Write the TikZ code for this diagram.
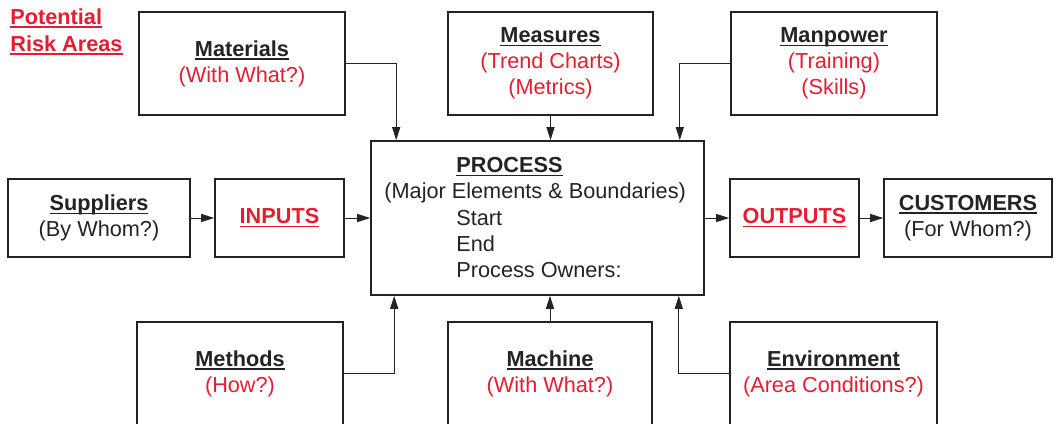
\documentclass[tikz,border=0pt]{standalone}
\usepackage{fontspec}
\setmainfont{Liberation Sans}
\usetikzlibrary{positioning,calc,arrows.meta}
\definecolor{riskred}{RGB}{228,30,50}
\definecolor{inkgray}{RGB}{35,35,35}
\newcommand{\undr}[1]{\setbox0\hbox{#1}\leavevmode\rlap{\rule[-1.7pt]{\wd0}{0.7pt}}\box0}
\newcommand{\boxt}[1]{\undr{\textbf{#1}}}
\newcommand{\riskt}[1]{\textcolor{riskred}{#1}}

\begin{document}
\begin{tikzpicture}
    [
    x=0.5pt, y=-0.5pt,
    every node/.style={
      font=\fontsize{10.85pt}{13pt}\selectfont,
      text=inkgray},
    box/.style={
      draw=inkgray, line width=0.8pt,
      align=center, inner sep=0pt,
      minimum height=51.5pt},
    link/.style={
      draw=inkgray, line width=0.5pt,
      -{Triangle[length=6.5pt, width=4pt]}},
    procline/.style={anchor=base west, inner sep=0pt}
    ]
    \useasboundingbox (0,0) rectangle (1059,423);
    \clip (0,0) rectangle (1059,423);

    % Title in the corner
    \node[anchor=west, align=left, inner sep=0pt, text=riskred,
          font=\bfseries\fontsize{10.85pt}{13.5pt}\selectfont]
          (risk) at (10,31.5) {\undr{Potential}\\\undr{Risk Areas}};

    % Top row of the 6M boxes
    \node[box, minimum width=103pt] (materials) at (242,63.5)
          {\boxt{Materials}\\\riskt{(With What?)}};
    \node[box, minimum width=102.5pt] (measures) at (550.5,63.5)
          {\boxt{Measures}\\\riskt{(Trend Charts)}\\\riskt{(Metrics)}};
    \node[box, minimum width=103pt] (manpower) at (834,63.5)
          {\boxt{Manpower}\\\riskt{(Training)}\\\riskt{(Skills)}};

    % Middle row: the flow
    \node[box, minimum width=91pt, minimum height=39pt] (suppliers) at (99,218)
          {\boxt{Suppliers}\\(By Whom?)};
    \node[box, minimum width=64.5pt, minimum height=39pt] (inputs) at (279.5,218)
          {\riskt{\boxt{INPUTS}}};
    \node[box, minimum width=166.5pt, minimum height=77pt] (process) at (537.5,218) {};
    \node[box, minimum width=64.5pt, minimum height=39pt] (outputs) at (794.5,218)
          {\riskt{\boxt{OUTPUTS}}};
    \node[box, minimum width=84pt, minimum height=39pt] (customers) at (968,218)
          {\boxt{CUSTOMERS}\\(For Whom?)};

    % Text inside the process box
    \node[procline] (proctitle) at (456,172.75) {\boxt{PROCESS}};
    \node[procline] (procsub)   at (384,198.75) {(Major Elements \& Boundaries)};
    \node[procline] (procstart) at (456,225.75) {Start};
    \node[procline] (procend)   at (456,251.75) {End};
    \node[procline] (procowner) at (456,277.75) {Process Owners:};

    % Bottom row of the 6M boxes
    \node[box, minimum width=103pt] (methods) at (240,373.5)
          {\boxt{Methods}\\\riskt{(How?)}};
    \node[box, minimum width=102pt] (machine) at (550,373.5)
          {\boxt{Machine}\\\riskt{(With What?)}};
    \node[box, minimum width=103.5pt] (environment) at (833.5,373.5)
          {\boxt{Environment}\\\riskt{(Area Conditions?)}};

    % Draw the connectors
    \draw[link] (materials.east) -| ([xshift=13pt]process.north west);
    \draw[link] (measures.south) -- (measures.south |- process.north);
    \draw[link] (manpower.west) -| ([xshift=-12.5pt]process.north east);
    \draw[link] (suppliers) -- (inputs);
    \draw[link] (inputs) -- (process);
    \draw[link] (process) -- (outputs);
    \draw[link] (outputs) -- (customers);
    \draw[link] (methods.east) -| ([xshift=12pt]process.south west);
    \draw[link] (machine.north) -- (machine.north |- process.south);
    \draw[link] (environment.west) -| ([xshift=-13pt]process.south east);
\end{tikzpicture}
\end{document}
